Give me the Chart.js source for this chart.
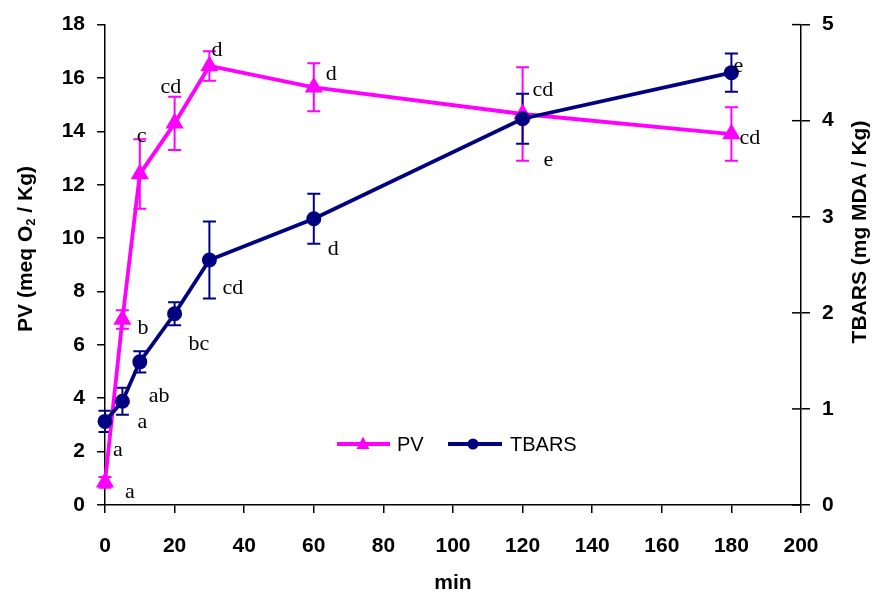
<!DOCTYPE html>
<html>
<head>
<meta charset="utf-8">
<script src="https://cdn.jsdelivr.net/npm/chart.js@4/dist/chart.umd.min.js"></script>
<style>
  html, body { margin: 0; padding: 0; background: #fff; }
  #wrap { width: 879px; height: 597px; position: relative; }
</style>
</head>
<body>
<div id="wrap"><canvas id="chart"></canvas></div>
<script>
// values
const minutes = [0, 5, 10, 20, 30, 60, 120, 180];
const pvMean = [0.85, 6.95, 12.4, 14.3, 16.45, 15.65, 14.65, 13.9];
const pvErr = [0.2, 0.35, 1.3, 1.0, 0.55, 0.9, 1.75, 1.0];
const pvLetters = ['a', 'b', 'c', 'cd', 'd', 'd', 'cd', 'cd'];
const tbarsMean = [0.87, 1.08, 1.49, 1.99, 2.55, 2.98, 4.02, 4.5];
const tbarsErr = [0.11, 0.14, 0.11, 0.12, 0.4, 0.26, 0.26, 0.2];
const tbarsLetters = ['a', 'a', 'ab', 'bc', 'cd', 'd', 'e', 'e'];

// where each letter sits relative to its point (px)
const pvLetterOffsets = [[20, 10], [15, 9], [-3, -38], [-14, -36], [2, -16], [12, -13], [10, -24], [8, 4]];
const tbarsLetterOffsets = [[8, 29], [15, 21], [9, 34], [14, 30], [13, 28], [14, 31], [21, 41], [2, -6]];

const PINK = '#FF00FF';
const NAVY = '#000080';
const SANS = '"Liberation Sans", Arial, sans-serif';

function toPoints(xs, ys) {
  return xs.map((x, i) => ({ x: x, y: ys[i] }));
}

// Error bars drawn through the dataset's own y scale
const errorBarPlugin = {
  id: 'errorBars',
  beforeDatasetsDraw(chart) {
    const ctx = chart.ctx;
    chart.data.datasets.forEach((ds, i) => {
      const meta = chart.getDatasetMeta(i);
      const yScale = chart.scales[ds.yAxisID];
      ctx.save();
      ctx.strokeStyle = ds.borderColor;
      ctx.lineWidth = 2;
      meta.data.forEach((pt, j) => {
        const v = ds.data[j].y;
        const e = ds.errors[j];
        const top = yScale.getPixelForValue(v + e);
        const bot = yScale.getPixelForValue(v - e);
        ctx.beginPath();
        ctx.moveTo(pt.x, top); ctx.lineTo(pt.x, bot);
        ctx.moveTo(pt.x - 6.5, top); ctx.lineTo(pt.x + 6.5, top);
        ctx.moveTo(pt.x - 6.5, bot); ctx.lineTo(pt.x + 6.5, bot);
        ctx.stroke();
      });
      ctx.restore();
    });
  }
};

// significance letters next to each point
const letterPlugin = {
  id: 'letters',
  afterDatasetsDraw(chart) {
    const ctx = chart.ctx;
    ctx.save();
    ctx.fillStyle = '#000';
    ctx.font = '22px "Liberation Serif", "Times New Roman", serif';
    ctx.textAlign = 'left';
    ctx.textBaseline = 'middle';
    chart.data.datasets.forEach((ds, i) => {
      const meta = chart.getDatasetMeta(i);
      meta.data.forEach((pt, j) => {
        const off = ds.letterOffsets[j];
        ctx.fillText(ds.letters[j], pt.x + off[0], pt.y + off[1]);
      });
    });
    ctx.restore();
  }
};

// axis titles, inner half of right ticks and the legend
const decorPlugin = {
  id: 'decor',
  afterDraw(chart) {
    const ctx = chart.ctx;
    const area = chart.chartArea;
    const y2 = chart.scales.y2;

    // right axis ticks cross the axis line
    ctx.save();
    ctx.strokeStyle = '#000';
    ctx.lineWidth = 1.5;
    y2.ticks.forEach(t => {
      const py = y2.getPixelForValue(t.value);
      ctx.beginPath();
      ctx.moveTo(area.right - 9, py);
      ctx.lineTo(area.right, py);
      ctx.stroke();
    });
    ctx.restore();

    // left title with subscript 2
    ctx.save();
    ctx.fillStyle = '#000';
    ctx.translate(26, 249);
    ctx.rotate(-Math.PI / 2);
    ctx.textBaseline = 'middle';
    const big = 'bold 21px ' + SANS;
    const small = 'bold 13px ' + SANS;
    const p1 = 'PV (meq O', p2 = '2', p3 = ' / Kg)';
    ctx.font = big; const w1 = ctx.measureText(p1).width; const w3 = ctx.measureText(p3).width;
    ctx.font = small; const w2 = ctx.measureText(p2).width;
    let x = -(w1 + w2 + w3) / 2;
    ctx.textAlign = 'left';
    ctx.font = big; ctx.fillText(p1, x, 0); x += w1;
    ctx.font = small; ctx.fillText(p2, x, 5); x += w2;
    ctx.font = big; ctx.fillText(p3, x, 0);
    ctx.restore();

    // right title, reading bottom to top
    ctx.save();
    ctx.fillStyle = '#000';
    ctx.translate(860, 232);
    ctx.rotate(-Math.PI / 2);
    ctx.textAlign = 'center';
    ctx.textBaseline = 'middle';
    ctx.font = 'bold 21px ' + SANS;
    ctx.fillText('TBARS (mg MDA / Kg)', 0, 0);
    ctx.restore();

    // legend
    ctx.save();
    const ly = 444;
    ctx.lineWidth = 4;
    ctx.strokeStyle = PINK;
    ctx.beginPath(); ctx.moveTo(337, ly); ctx.lineTo(390, ly); ctx.stroke();
    ctx.fillStyle = PINK;
    ctx.beginPath();
    ctx.moveTo(363, ly - 7.5); ctx.lineTo(369.5, ly + 5); ctx.lineTo(356.5, ly + 5);
    ctx.closePath(); ctx.fill();
    ctx.strokeStyle = NAVY;
    ctx.beginPath(); ctx.moveTo(448, ly); ctx.lineTo(502, ly); ctx.stroke();
    ctx.fillStyle = NAVY;
    ctx.beginPath(); ctx.arc(473, ly, 5.5, 0, Math.PI * 2); ctx.fill();
    ctx.fillStyle = '#000';
    ctx.font = '20px ' + SANS;
    ctx.textAlign = 'left';
    ctx.textBaseline = 'middle';
    ctx.fillText('PV', 397, ly + 1);
    ctx.fillText('TBARS', 510, ly + 1);
    ctx.restore();
  }
};

const tickFont = { family: SANS, size: 21, weight: 'bold' };

new Chart(document.getElementById('chart'), {
  type: 'line',
  data: {
    datasets: [
      {
        label: 'PV',
        data: toPoints(minutes, pvMean),
        errors: pvErr,
        letters: pvLetters,
        letterOffsets: pvLetterOffsets,
        yAxisID: 'y',
        borderColor: PINK,
        backgroundColor: PINK,
        borderWidth: 3.8,
        pointStyle: 'triangle',
        pointRadius: 10.5,
        pointBorderWidth: 0,
        tension: 0,
        clip: false,
        order: 2
      },
      {
        label: 'TBARS',
        data: toPoints(minutes, tbarsMean),
        errors: tbarsErr,
        letters: tbarsLetters,
        letterOffsets: tbarsLetterOffsets,
        yAxisID: 'y2',
        borderColor: NAVY,
        backgroundColor: NAVY,
        borderWidth: 3.8,
        pointStyle: 'circle',
        pointRadius: 7.5,
        pointBorderWidth: 0,
        tension: 0,
        clip: false,
        order: 1
      }
    ]
  },
  options: {
    responsive: true,
    maintainAspectRatio: false,
    animation: false,
    layout: { padding: { top: 21, left: 0, right: 0, bottom: 0 } },
    plugins: {
      legend: { display: false },
      tooltip: { enabled: false }
    },
    scales: {
      x: {
        type: 'linear',
        min: 0,
        max: 200,
        ticks: { stepSize: 20, font: tickFont, color: '#000', padding: 21, maxRotation: 0 },
        grid: { drawOnChartArea: false, drawTicks: true, tickLength: 8, color: '#000', lineWidth: 1.5 },
        border: { color: '#000', width: 1.5 },
        title: {
          display: true,
          text: 'min',
          font: { family: SANS, size: 21, weight: 'bold' },
          color: '#000',
          padding: { top: 0, bottom: 1 }
        },
        afterFit(scale) { scale.height = 92; }
      },
      y: {
        position: 'left',
        min: 0,
        max: 18,
        ticks: { stepSize: 2, font: tickFont, color: '#000', padding: 12 },
        grid: { drawOnChartArea: false, drawTicks: true, tickLength: 8, color: '#000', lineWidth: 1.5 },
        border: { color: '#000', width: 1.5 },
        afterFit(scale) { scale.width = 105; }
      },
      y2: {
        position: 'right',
        min: 0,
        max: 5,
        ticks: { stepSize: 1, font: tickFont, color: '#000', padding: 12 },
        grid: { drawOnChartArea: false, drawTicks: true, tickLength: 9, color: '#000', lineWidth: 1.5 },
        border: { color: '#000', width: 1.5 },
        afterFit(scale) { scale.width = 78; }
      }
    }
  },
  plugins: [errorBarPlugin, letterPlugin, decorPlugin]
});
</script>
</body>
</html>
